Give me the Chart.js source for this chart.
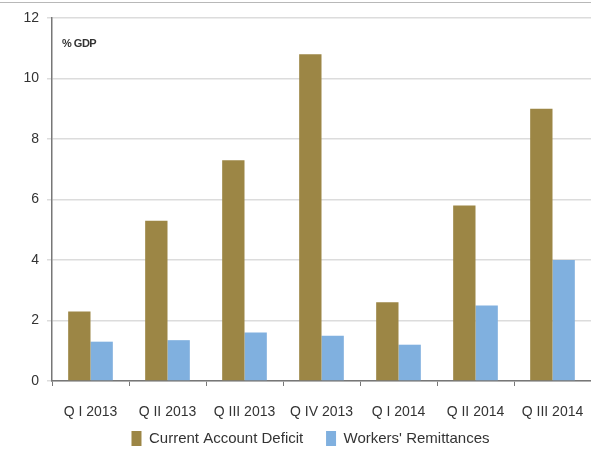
<!DOCTYPE html>
<html>
<head>
<meta charset="utf-8">
<title>Current Account Deficit vs Workers' Remittances</title>
<script src="https://cdn.jsdelivr.net/npm/chart.js"></script>
<style>
  html, body { margin: 0; padding: 0; background: #fff; }
  #wrap { position: relative; width: 591px; height: 450px; }
  #topline { position: absolute; left: 0; top: 2px; width: 591px; height: 1px; background: #b8b8b8; }
  #unit { position: absolute; left: 62px; top: 37px; font: bold 11px "Liberation Sans", Arial, sans-serif; color: #333; letter-spacing: -0.5px; }
</style>
</head>
<body>
<div id="wrap">
  <canvas id="chart" width="591" height="450"></canvas>
  <div id="topline"></div>
  <div id="unit">% GDP</div>
</div>
<script>
// categorías y series
const quarters = ['Q I 2013', 'Q II 2013', 'Q III 2013', 'Q IV 2013', 'Q I 2014', 'Q II 2014', 'Q III 2014'];
const currentAccountDeficit = [2.3, 5.3, 7.3, 10.8, 2.6, 5.8, 9.0];
const workersRemittances = [1.3, 1.35, 1.6, 1.5, 1.2, 2.5, 4.0];
const yTicks = [0, 2, 4, 6, 8, 10, 12];

const font = "'Liberation Sans', Arial, sans-serif";
// espacio extra entre las entradas de la leyenda
const gap = '\u00a0'.repeat(5);

// mover la leyenda un poco (abajo / derecha) después del layout
const legendShift = {
  id: 'legendShift',
  afterLayout(chart) {
    const lg = chart.legend;
    if (!lg) return;
    lg.top += 6; lg.bottom += 6;
    lg.left += 12; lg.right += 12;
  }
};

const ctx = document.getElementById('chart').getContext('2d');
const chart = new Chart(ctx, {
  type: 'bar',
  data: {
    labels: quarters,
    datasets: [{
      label: 'Current Account Deficit' + gap,
      data: currentAccountDeficit,
      backgroundColor: '#9c8645',
      borderWidth: 0
    }, {
      label: "Workers' Remittances",
      data: workersRemittances,
      backgroundColor: '#80b0df',
      borderWidth: 0
    }]
  },
  options: {
    responsive: false,
    animation: false,
    layout: { padding: { top: 18, right: 0, left: 6, bottom: 0 } },
    categoryPercentage: 0.58,
    barPercentage: 1.0,
    plugins: {
      tooltip: { enabled: false },
      legend: {
        position: 'bottom',
        labels: {
          boxWidth: 10,
          boxHeight: 15,
          padding: 2,
          color: '#333',
          font: { family: font, size: 15 }
        }
      }
    },
    scales: {
      x: {
        grid: { display: true, drawOnChartArea: false, tickLength: 5, color: '#777', offset: true },
        border: { color: '#777', width: 1.5 },
        ticks: { color: '#333', font: { family: font, size: 14 }, padding: 18, maxRotation: 0 },
        afterFit: (scale) => {
          scale.height = 42;
          scale.paddingRight = 0;
        }
      },
      y: {
        min: 0,
        max: 12,
        afterBuildTicks: (scale) => { scale.ticks = yTicks.map(v => ({ value: v })); },
        grid: { color: '#dcdcdc', lineWidth: 1.5, tickLength: 5 },
        border: { color: '#777', width: 1.5 },
        ticks: { color: '#333', font: { family: font, size: 14 }, padding: 8 },
        afterFit: (scale) => { scale.width = 46; }
      }
    }
  },
  plugins: [legendShift]
});
</script>
</body>
</html>
